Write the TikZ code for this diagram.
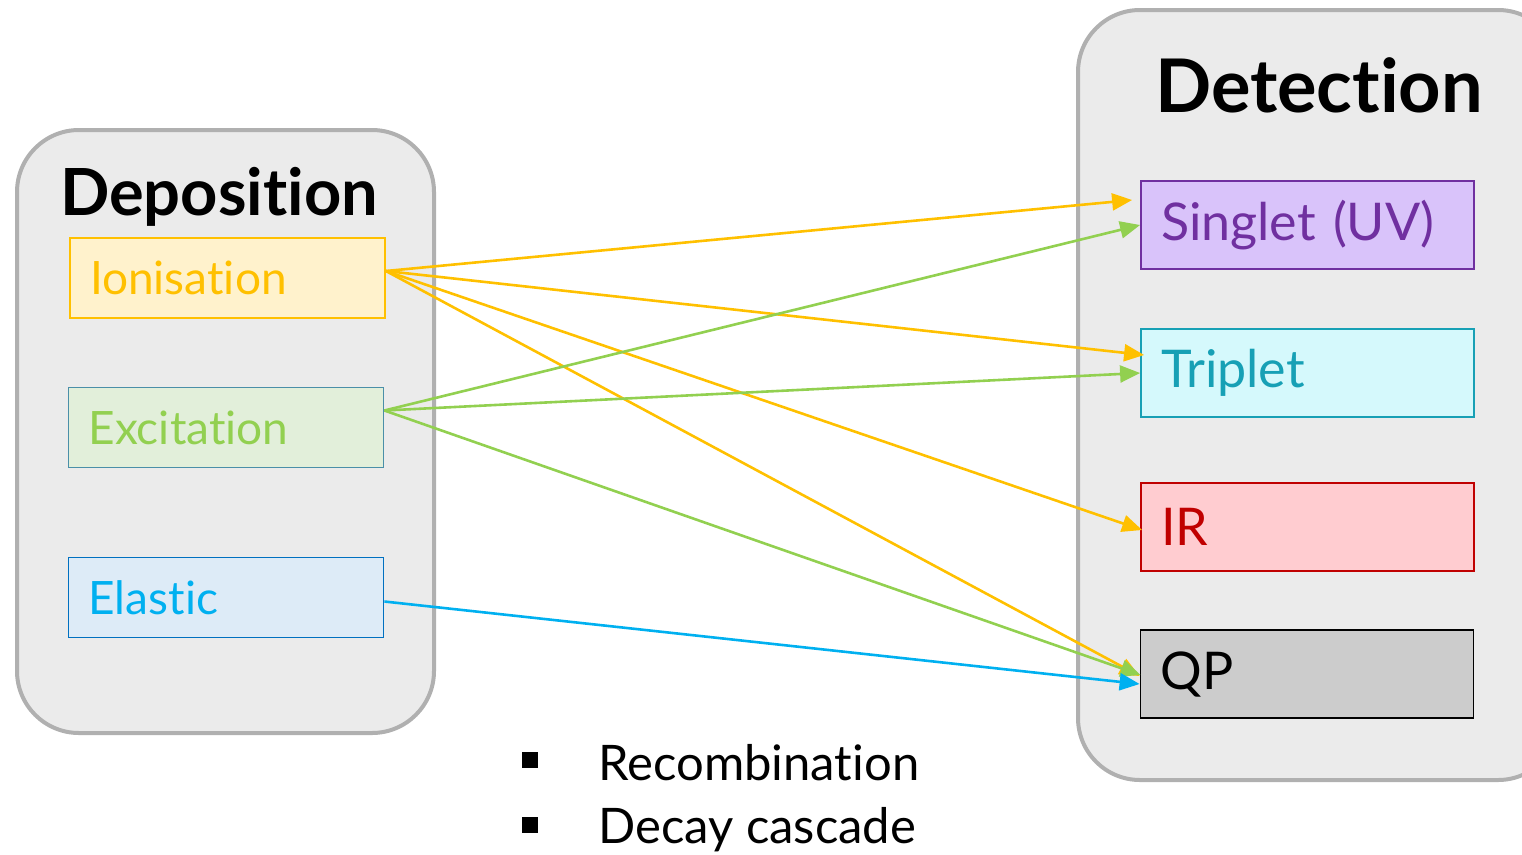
\documentclass[tikz,border=0pt]{standalone}
\usepackage{fontspec}
\setmainfont{Lato}[Ligatures=NoCommon]
\usetikzlibrary{arrows.meta,calc}

\definecolor{panelfill}{HTML}{EBEBEB}
\definecolor{panelline}{HTML}{B0B0B0}
\definecolor{ionfill}{HTML}{FFF2CC}
\definecolor{iontext}{HTML}{FFC000}
\definecolor{excfill}{HTML}{E2EFDA}
\definecolor{excline}{HTML}{4A8FA8}
\definecolor{exctext}{HTML}{92D050}
\definecolor{elafill}{HTML}{DDEBF7}
\definecolor{elaline}{HTML}{0070C0}
\definecolor{elatext}{HTML}{00B0F0}
\definecolor{sinfill}{HTML}{D9C3FA}
\definecolor{sintext}{HTML}{7030A0}
\definecolor{trifill}{HTML}{D5F9FC}
\definecolor{tritext}{HTML}{17A0B5}
\definecolor{irfill}{HTML}{FFCCD0}
\definecolor{irtext}{HTML}{C00000}
\definecolor{qpfill}{HTML}{CCCCCC}

\begin{document}
\begin{tikzpicture}[x=1pt,y=-1pt,
    panel/.style={draw=panelline, fill=panelfill, line width=4pt, rounded corners=62pt},
    title/.style={font=\fontsize{65}{67}\selectfont\bfseries, inner sep=0pt},
    box/.style={draw, line width=1.8pt, minimum height=80pt, text width=275pt,
        inner xsep=20pt, align=left, font=\fontsize{46}{48}\selectfont},
    rbox/.style={box, minimum height=88pt, text width=293pt, font=\fontsize{52}{54}\selectfont},
    link/.style={line width=2.6pt, -{Triangle[length=20pt,width=17pt]}},
    item/.style={font=\fontsize{49}{51}\selectfont, inner sep=0pt, anchor=base west}]
    \clip (0,0) rectangle (1522,854);
    % panels
    \draw[panel] (17,130) rectangle (434,733);
    \draw[panel] (1078,10) rectangle (1560,780);
    \node[title, anchor=base west] (dep) at (60,215) {Deposition};
    \node[title, anchor=base west, font=\fontsize{74}{76}\selectfont\bfseries] (det) at (1155,112) {Detection};
    % deposition boxes
    \node[box, draw=iontext, fill=ionfill, text=iontext] (ion) at (227.5,278) {Ionisation};
    \node[box, draw=excline, fill=excfill, text=exctext] (exc) at (226,427.5) {Excitation};
    \node[box, draw=elaline, fill=elafill, text=elatext] (ela) at (226,597.5) {Elastic};
    % detection boxes
    \node[rbox, draw=sintext, fill=sinfill, text=sintext] (sin) at (1307.5,225) {Singlet (UV)};
    \node[rbox, draw=tritext, fill=trifill, text=tritext] (tri) at (1307.5,373) {Triplet};
    \node[rbox, draw=irtext, fill=irfill, text=irtext] (ir) at (1307.5,527) {IR};
    \node[rbox, draw=black, fill=qpfill, text=black] (qp) at (1307,674) {QP};
    % links
    \draw[link, iontext] ([yshift=7pt]ion.east) -- ([shift={(-8,-25)}]sin.west);
    \draw[link, iontext] ([yshift=7pt]ion.east) -- ([shift={(4,-18)}]tri.west);
    \draw[link, iontext] ([yshift=7pt]ion.east) -- ([shift={(2,3)}]ir.west);
    \draw[link, iontext] ([yshift=7pt]ion.east) -- ([shift={(0,2)}]qp.west);
    \draw[link, exctext] ([yshift=17pt]exc.east) -- (sin.west);
    \draw[link, exctext] ([yshift=17pt]exc.east) -- (tri.west);
    \draw[link, exctext] ([yshift=17pt]exc.east) -- ([shift={(1,1)}]qp.west);
    \draw[link, elatext] ([yshift=-4pt]ela.east) -- ([shift={(0,10)}]qp.west);
    % bullets
    \fill (522,752) rectangle (538,768);
    \fill (522,817) rectangle (538,833);
    \node[item] (rec) at (598,780) {Recombination};
    \node[item] (dec) at (598,843) {Decay cascade};
\end{tikzpicture}
\end{document}
